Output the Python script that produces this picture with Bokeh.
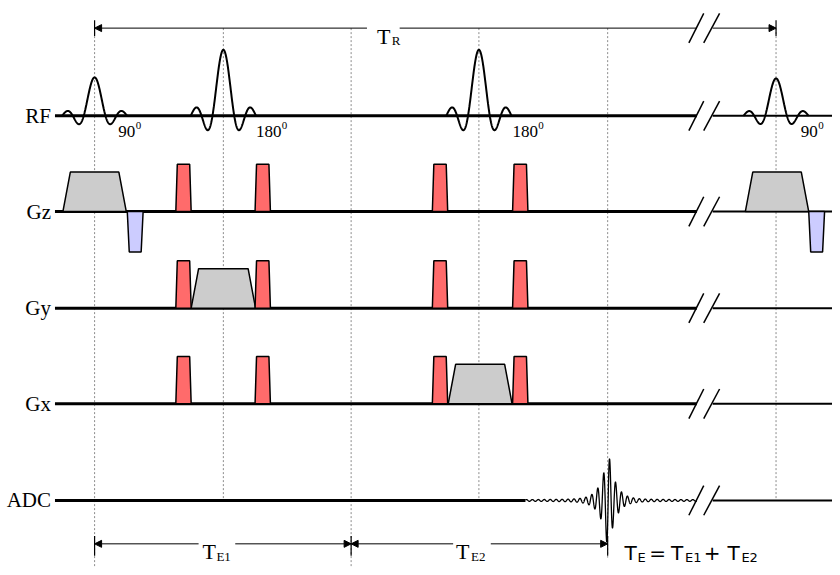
import numpy as np
from bokeh.plotting import figure
from bokeh.models import Range1d, Arrow, NormalHead
from bokeh.core.properties import value
from bokeh.embed import file_html
from bokeh.resources import INLINE

# ---------------- data (schematic time units along x, levels along y) -------------
row_names = ["RF", "Gz", "Gy", "Gx", "ADC"]
row_level = [117, 214, 312, 409, 507]
tr_level = 28
te_level = 551

t_start = 55
t_break = [703, 719]
t_end = 840

event_times = [95, 225, 354, 483, 613, 783]     # 90, 180, TE/2, 180, echo, next 90
event_reach = [575, 507, 575, 507, 565, 507]

rf_centers = [95, 225, 483, 783]
rf_amp = [39, 67, 67, 38]
rf_lobe = 11
rf_labels = ["90", "180", "180", "90"]
rf_label_x = [119, 258, 517, 808]

crusher_times = [177, 257, 436, 517]
crusher_rows = ["Gz", "Gy", "Gx"]
crusher_amp = 48

slice_times = [63, 752]
slice_amp = 40
rephase_times = [128, 816]
rephase_amp = -41
phase_time = 192.5
phase_amp = 40
readout_time = 452
readout_amp = 40

echo_center = 613
echo_amp = 50
echo_span = [530, 703]

# ---------------- figure -------------
p = figure(width=832, height=567, x_range=Range1d(0, 840), y_range=Range1d(575, 0),
           output_backend="svg", toolbar_location=None, min_border=0)
p.axis.visible = False
p.grid.visible = False
p.outline_line_color = None
p.background_fill_color = "white"
p.border_fill_color = "white"

lvl = dict(zip(row_names, row_level))

# dotted vertical guides
p.segment(x0=event_times, y0=[tr_level] * len(event_times), x1=event_times, y1=event_reach,
          line_color="#8c8c8c", line_width=1, line_dash="2 2")

# baselines
for name, y in zip(row_names, row_level):
    left_end = echo_span[0] if name == "ADC" else t_break[0]
    p.segment(x0=[t_start], y0=[y], x1=[left_end], y1=[y], line_color="black", line_width=3)
    p.segment(x0=[t_break[1]], y0=[y], x1=[t_end], y1=[y], line_color="black", line_width=2)

# break marks
for y in [tr_level] + row_level:
    p.segment(x0=[695, 710], y0=[y + 15, y + 15], x1=[710, 726], y1=[y - 15, y - 15],
              line_color="black", line_width=1.5)

# RF sinc pulses
for c, a in zip(rf_centers, rf_amp):
    u = np.linspace(-3, 3, 300)
    p.line(c + rf_lobe * u, lvl["RF"] - a * np.sinc(u), line_color="black", line_width=2)

# gradients
def trap(start, ramp, flat, amp, base):
    return ([start, start + ramp, start + ramp + flat, start + 2 * ramp + flat],
            [base, base - amp, base - amp, base])

gray_x, gray_y, red_x, red_y, blue_x, blue_y = [], [], [], [], [], []
for t in slice_times:
    xs, ys = trap(t, 7.5, 49, slice_amp, lvl["Gz"]); gray_x.append(xs); gray_y.append(ys)
xs, ys = trap(phase_time, 7.5, 50, phase_amp, lvl["Gy"]); gray_x.append(xs); gray_y.append(ys)
xs, ys = trap(readout_time, 7.5, 49.5, readout_amp, lvl["Gx"]); gray_x.append(xs); gray_y.append(ys)
for r in crusher_rows:
    for t in crusher_times:
        xs, ys = trap(t, 1.5, 12.5, crusher_amp, lvl[r]); red_x.append(xs); red_y.append(ys)
for t in rephase_times:
    xs, ys = trap(t, 2, 12, rephase_amp, lvl["Gz"]); blue_x.append(xs); blue_y.append(ys)

p.patches(gray_x, gray_y, fill_color="#cccccc", line_color="black", line_width=1.5)
p.patches(red_x, red_y, fill_color="#ff6b6b", line_color="black", line_width=1.5)
p.patches(blue_x, blue_y, fill_color="#ccccff", line_color="black", line_width=1.5)

# ADC echo
t = np.linspace(echo_span[0], echo_span[1], 2000)
u = t - echo_center
env = echo_amp * np.exp(-np.abs(u - 0.5) / 7) + 1.5 * np.exp(-np.abs(u) / 150)
sig = env * np.cos(2 * np.pi * (u - 2) / 6)
p.line(t, lvl["ADC"] - sig, line_color="black", line_width=1.3)

# arrows
def arr(x0, x1, y, head=True):
    h = NormalHead(size=7, fill_color="black", line_color="black", line_width=1) if head else None
    p.add_layout(Arrow(x_start=x0, y_start=y, x_end=x1, y_end=y, end=h, start=None,
                       line_color="black", line_width=1))

arr(370, 95, tr_level)
arr(403, t_break[0], tr_level, head=False)
arr(t_break[1], 783, tr_level)
p.segment(x0=[95, 783], y0=[tr_level - 8] * 2, x1=[95, 783], y1=[tr_level + 8] * 2,
          line_color="black", line_width=1.2)

arr(200, 95, te_level)
arr(237, 354, te_level)
arr(457, 354, te_level)
arr(495, 613, te_level)
p.segment(x0=[95, 354, 613], y0=[te_level - 8] * 3, x1=[95, 354, 613], y1=[te_level + 12] * 3,
          line_color="black", line_width=1.2)

# texts
serif = value("Liberation Serif")
sans = value("DejaVu Sans")
p.text(x=[51] * 5, y=row_level, text=row_names, text_font=serif, text_font_size="21px",
       text_align="right", text_baseline="alphabetic", text_color="black")

p.text(x=rf_label_x, y=[lvl["RF"] + 16] * 4, text=rf_labels, text_font=serif,
       text_font_size="17px", text_align="left", text_baseline="alphabetic", text_color="black")
sup_x = [x + 8.5 * len(s) + 0.5 for x, s in zip(rf_label_x, rf_labels)]
p.text(x=sup_x, y=[lvl["RF"] + 10] * 4, text=["0"] * 4, text_font=serif,
       text_font_size="11px", text_align="left", text_baseline="alphabetic", text_color="black")

p.text(x=[380, 204, 460], y=[tr_level + 9, te_level + 8, te_level + 8], text=["T", "T", "T"],
       text_font=serif, text_font_size="22px", text_align="left", text_baseline="alphabetic",
       text_color="black")
p.text(x=[395, 218, 475], y=[tr_level + 13, te_level + 13, te_level + 13], text=["R", "E1", "E2"],
       text_font=serif, text_font_size="13px", text_align="left", text_baseline="alphabetic",
       text_color="black")

p.text(x=[630, 655, 677, 710, 734], y=[te_level + 9] * 5, text=["T", "=", "T", "+", "T"],
       text_font=sans, text_font_size="20px", text_align="left", text_baseline="alphabetic",
       text_color="black")
p.text(x=[643, 691, 748], y=[te_level + 14] * 3, text=["E", "E1", "E2"],
       text_font=sans, text_font_size="13px", text_align="left", text_baseline="alphabetic",
       text_color="black")

open("out.html", "w").write(file_html(p, INLINE))
